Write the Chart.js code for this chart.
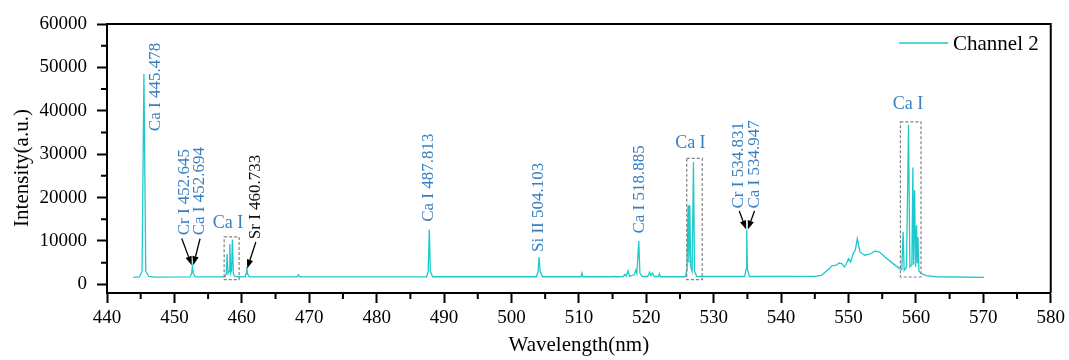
<!DOCTYPE html>
<html>
<head>
<meta charset="utf-8">
<script src="https://cdn.jsdelivr.net/npm/chart.js@4.4.1/dist/chart.umd.min.js"></script>
<style>
  html, body { margin: 0; padding: 0; background: #ffffff; }
  #wrap { width: 1069px; height: 360px; }
</style>
</head>
<body>
<div id="wrap"><canvas id="c" width="1069" height="360"></canvas></div>
<script>
// ---- Data ----
const seriesLabel = 'Channel 2';
const wavelength = [
  443.9, 444.8, 445.2, 445.478, 445.75, 446.2, 447.0,
  452.3, 452.55, 452.67, 452.8, 453.1,
  457.5, 457.7, 457.82, 457.95, 458.1, 458.22, 458.35, 458.48, 458.6, 458.75, 459.0,
  460.5, 460.62, 460.73, 460.85, 461.1,
  468.2, 468.4, 468.6,
  487.4, 487.65, 487.81, 487.97, 488.3,
  503.7, 503.95, 504.1, 504.25, 504.6,
  510.3, 510.45, 510.6,
  515.2, 515.3, 515.4,
  516.6, 516.8, 517.0, 517.3, 517.5,
  518.2, 518.45, 518.6, 518.885, 519.05, 519.4,
  520.2, 520.5, 520.7, 520.9, 521.2, 521.8, 521.95, 522.1,
  525.8, 526.05, 526.2, 526.32, 526.45, 526.6, 526.8, 527.0, 527.15, 527.5,
  534.6, 534.8, 534.9, 535.0, 535.3,
  545.0, 546.0, 546.6, 547.2, 547.5, 548.2, 548.6, 549.0, 549.4, 549.7, 550.0, 550.3, 550.7,
  551.0, 551.3, 551.7, 552.0, 552.4, 552.9, 553.4, 553.9, 554.6, 555.4, 556.6, 557.6,
  557.9, 558.1, 558.25, 558.6, 558.9, 559.1, 559.4, 559.55, 559.65, 559.8, 559.95,
  560.1, 560.2, 560.3, 560.45, 560.8, 561.5, 563.0, 570.1
];
const intensity = [
  1600, 1700, 3000, 48500, 3000, 1800, 1650,
  1700, 2500, 4100, 2500, 1750,
  1700, 2600, 7000, 2500, 3000, 9300, 2600, 3200, 10300, 2400, 1800,
  1700, 2500, 4000, 2400, 1750,
  1700, 2200, 1700,
  1700, 3000, 12600, 3000, 1750,
  1750, 3000, 6300, 3000, 1750,
  1750, 2600, 1750,
  1750, 1900, 1750,
  1800, 2300, 1900, 3100, 1900,
  2200, 3300, 2500, 10000, 2600, 1800,
  1800, 2800, 2000, 2600, 1800, 1800, 2400, 1750,
  1750, 3500, 18200, 5000, 18200, 4000, 3000, 28200, 3000, 1800,
  1800, 3500, 12500, 3500, 1800,
  1850, 2080, 2900, 3620, 4230, 4400, 4900, 4770, 4000, 4800, 5930, 5150, 7080,
  7850, 10550, 7450, 7100, 6700, 6900, 7100, 7690, 7450, 6300, 4770, 3620,
  3400, 12100, 3200, 4000, 36700, 4000, 4500, 26900, 4500, 21700, 4000,
  13600, 5000, 10900, 3000, 2500, 2000, 1750, 1600
];
const xTickValues = [440, 450, 460, 470, 480, 490, 500, 510, 520, 530, 540, 550, 560, 570, 580];
const yTickValues = [0, 10000, 20000, 30000, 40000, 50000, 60000];
const xTitle = 'Wavelength(nm)';
const yTitle = 'Intensity(a.u.)';

// ---- Annotations (data coordinates) ----
const BLUE = '#3a80c0';
const rotatedLabels = [
  { text: 'Ca I 445.478', x: 447.14, y: 35300, color: BLUE },
  { text: 'Cr I 452.645', x: 451.43, y: 11300, color: BLUE },
  { text: 'Ca I 452.694', x: 453.80, y: 11300, color: BLUE },
  { text: 'Sr I 460.733', x: 462.08, y: 10400, color: '#111111' },
  { text: 'Ca I 487.813', x: 487.72, y: 14400, color: BLUE },
  { text: 'Si II 504.103', x: 504.00, y: 7450, color: BLUE },
  { text: 'Ca I 518.885', x: 519.00, y: 11700, color: BLUE },
  { text: 'Cr I 534.831', x: 533.68, y: 17470, color: BLUE },
  { text: 'Ca I 534.947', x: 536.05, y: 17470, color: BLUE }
];
const flatLabels = [
  { text: 'Ca I', x: 457.94, y: 14150 },
  { text: 'Ca I', x: 526.54, y: 32470 },
  { text: 'Ca I', x: 558.83, y: 41540 }
];
const boxes = [
  { x0: 457.38, x1: 459.60, y0: 1085, y1: 10915 },
  { x0: 526.00, x1: 528.30, y0: 1085, y1: 29010 },
  { x0: 557.70, x1: 560.75, y0: 1685, y1: 37460 }
];
const arrows = [
  { x0: 451.09, y0: 10550, x1: 452.57, y1: 4385 },
  { x0: 453.80, y0: 10550, x1: 452.81, y1: 4385 },
  { x0: 462.08, y0: 9760, x1: 460.80, y1: 3620 },
  { x0: 533.79, y0: 16900, x1: 534.82, y1: 12620 },
  { x0: 536.05, y0: 16900, x1: 535.06, y1: 12620 }
];

const FONT = "'Liberation Serif', 'Times New Roman', serif";
const LINE_COLOR = '#1cc9cb';

const extrasPlugin = {
  id: 'extras',
  afterDraw(chart) {
    const ctx = chart.ctx;
    const xs = chart.scales.x, ys = chart.scales.y;
    const ca = chart.chartArea;
    ctx.save();
    // frame: top and right
    ctx.strokeStyle = '#000';
    ctx.lineWidth = 2;
    ctx.beginPath();
    ctx.moveTo(ca.left, ca.top);
    ctx.lineTo(ca.right, ca.top);
    ctx.lineTo(ca.right, ca.bottom);
    ctx.stroke();
    // minor ticks
    ctx.lineWidth = 2;
    ctx.beginPath();
    for (let i = 0; i < xTickValues.length - 1; i++) {
      const v = (xTickValues[i] + xTickValues[i + 1]) / 2;
      const px = xs.getPixelForValue(v);
      ctx.moveTo(px, ca.bottom);
      ctx.lineTo(px, ca.bottom + 6);
    }
    for (let i = 0; i < yTickValues.length - 1; i++) {
      const v = (yTickValues[i] + yTickValues[i + 1]) / 2;
      const py = ys.getPixelForValue(v);
      ctx.moveTo(ca.left, py);
      ctx.lineTo(ca.left - 6, py);
    }
    ctx.stroke();

    // y axis title
    ctx.fillStyle = '#000';
    ctx.font = '21px ' + FONT;
    ctx.textAlign = 'center';
    ctx.textBaseline = 'middle';
    ctx.save();
    ctx.translate(22, 168);
    ctx.rotate(-Math.PI / 2);
    ctx.fillText(yTitle, 0, 0);
    ctx.restore();

    // dashed boxes
    ctx.strokeStyle = '#808080';
    ctx.lineWidth = 1.2;
    ctx.setLineDash([3, 2]);
    boxes.forEach(b => {
      const x0 = xs.getPixelForValue(b.x0), x1 = xs.getPixelForValue(b.x1);
      const y0 = ys.getPixelForValue(b.y0), y1 = ys.getPixelForValue(b.y1);
      ctx.strokeRect(x0, y1, x1 - x0, y0 - y1);
    });
    ctx.setLineDash([]);

    // arrows
    ctx.strokeStyle = '#000';
    ctx.fillStyle = '#000';
    ctx.lineWidth = 1.3;
    arrows.forEach(a => {
      const x0 = xs.getPixelForValue(a.x0), y0 = ys.getPixelForValue(a.y0);
      const x1 = xs.getPixelForValue(a.x1), y1 = ys.getPixelForValue(a.y1);
      const ang = Math.atan2(y1 - y0, x1 - x0);
      const L = 9, W = 3.2;
      const bx = x1 - L * Math.cos(ang), by = y1 - L * Math.sin(ang);
      ctx.beginPath();
      ctx.moveTo(x0, y0);
      ctx.lineTo(bx, by);
      ctx.stroke();
      ctx.beginPath();
      ctx.moveTo(x1, y1);
      ctx.lineTo(bx + W * Math.sin(ang), by - W * Math.cos(ang));
      ctx.lineTo(bx - W * Math.sin(ang), by + W * Math.cos(ang));
      ctx.closePath();
      ctx.fill();
    });

    // rotated labels
    ctx.font = '17px ' + FONT;
    ctx.textAlign = 'left';
    ctx.textBaseline = 'middle';
    rotatedLabels.forEach(l => {
      const px = xs.getPixelForValue(l.x), py = ys.getPixelForValue(l.y);
      ctx.save();
      ctx.translate(px, py);
      ctx.rotate(-Math.PI / 2);
      ctx.fillStyle = l.color;
      ctx.fillText(l.text, 0, 0);
      ctx.restore();
    });
    // horizontal labels
    ctx.font = '18px ' + FONT;
    ctx.textAlign = 'center';
    ctx.fillStyle = BLUE;
    flatLabels.forEach(l => {
      ctx.fillText(l.text, xs.getPixelForValue(l.x), ys.getPixelForValue(l.y));
    });

    // legend
    ctx.strokeStyle = LINE_COLOR;
    ctx.lineWidth = 1.5;
    ctx.beginPath();
    ctx.moveTo(899, 43);
    ctx.lineTo(948, 43);
    ctx.stroke();
    ctx.fillStyle = '#000';
    ctx.font = '21px ' + FONT;
    ctx.textAlign = 'left';
    ctx.textBaseline = 'middle';
    ctx.fillText(seriesLabel, 953, 44);
    ctx.restore();
  }
};

new Chart(document.getElementById('c'), {
  type: 'line',
  data: {
    datasets: [{
      label: seriesLabel,
      data: wavelength.map((x, i) => ({ x: x, y: intensity[i] })),
      borderColor: LINE_COLOR,
      borderWidth: 1.3,
      pointRadius: 0,
      tension: 0,
      fill: false
    }]
  },
  options: {
    responsive: false,
    animation: false,
    devicePixelRatio: 1,
    layout: { padding: { left: 0, right: 16, top: 24, bottom: 0 } },
    plugins: { legend: { display: false }, tooltip: { enabled: false } },
    scales: {
      x: {
        type: 'linear',
        min: 440, max: 580,
        afterBuildTicks: s => { s.ticks = xTickValues.map(v => ({ value: v })); },
        afterFit: s => { s.height = 67; },
        ticks: { color: '#000', font: { family: FONT, size: 19 }, padding: 4, maxRotation: 0, autoSkip: false, callback: v => String(v) },
        grid: { drawOnChartArea: false, drawTicks: true, tickLength: 10, tickColor: '#000', tickWidth: 2 },
        border: { display: true, color: '#000', width: 2 },
        title: { display: true, text: xTitle, color: '#000', font: { family: FONT, size: 21 }, padding: { top: 0, bottom: 2 } }
      },
      y: {
        type: 'linear',
        min: -2000, max: 60000,
        afterBuildTicks: s => { s.ticks = yTickValues.map(v => ({ value: v })); },
        afterFit: s => { s.width = 107; },
        ticks: { color: '#000', font: { family: FONT, size: 19 }, padding: 10, callback: v => String(v) },
        grid: { drawOnChartArea: false, drawTicks: true, tickLength: 10, tickColor: '#000', tickWidth: 2 },
        border: { display: true, color: '#000', width: 2 },
        title: { display: false }
      }
    }
  },
  plugins: [extrasPlugin]
});
</script>
</body>
</html>
